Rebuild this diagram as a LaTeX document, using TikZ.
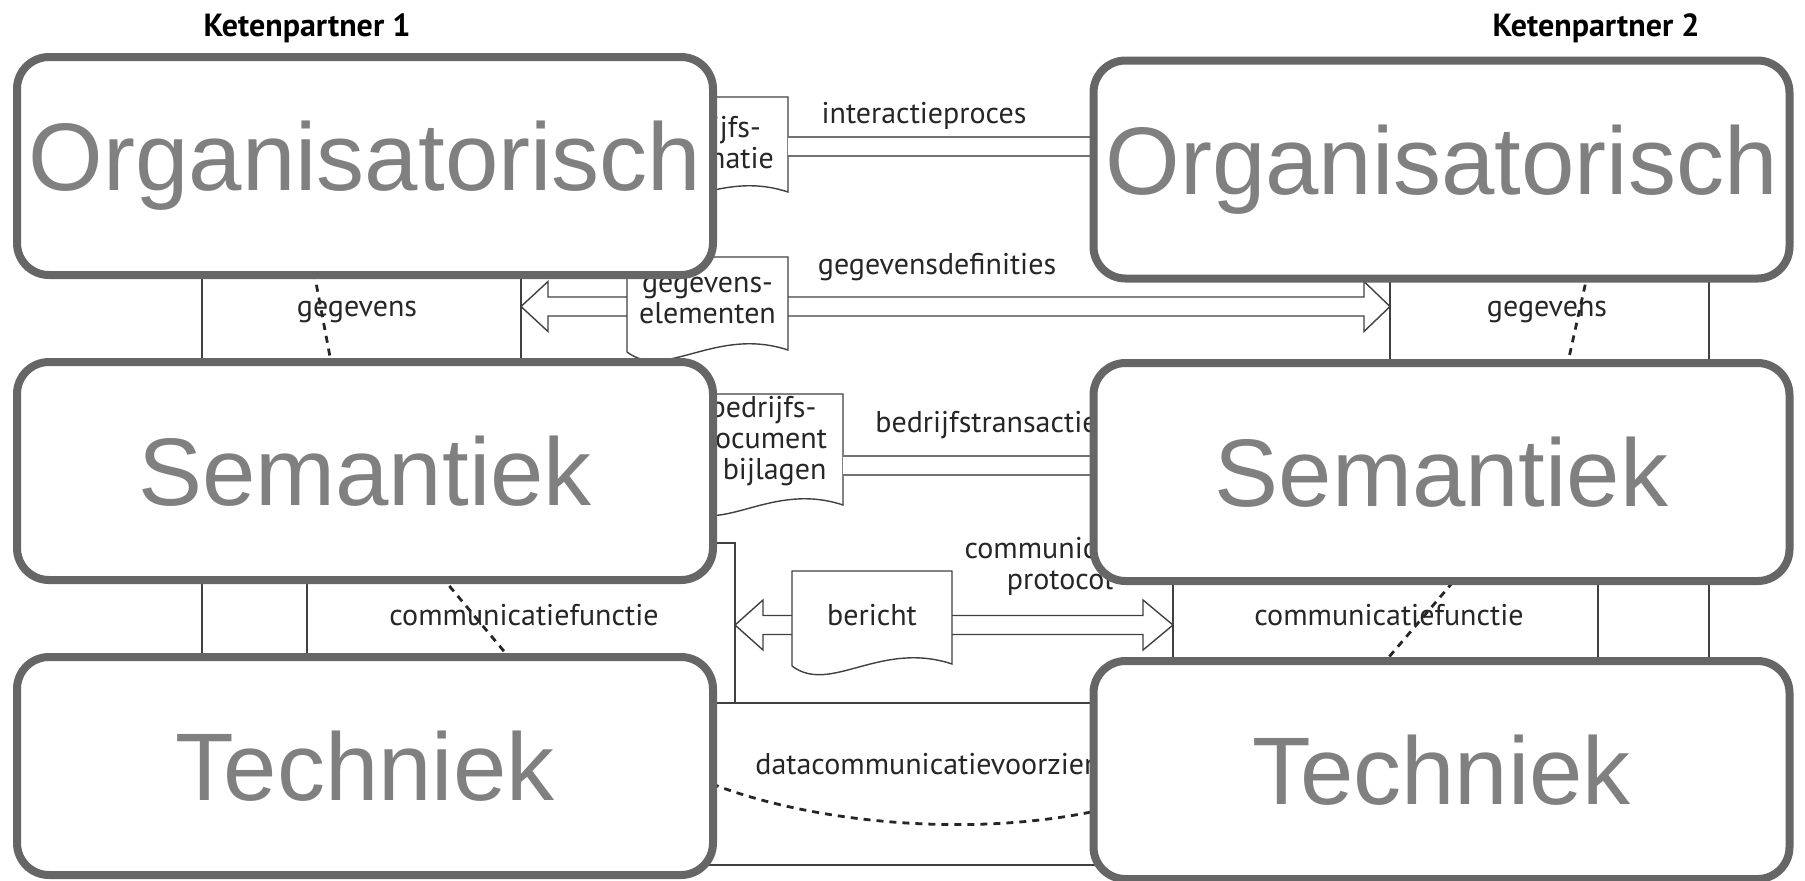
\documentclass[tikz,border=0pt]{standalone}
\usepackage{fontspec}
\setmainfont{PT Sans}
\newfontfamily\boxfont{Liberation Sans}
\usetikzlibrary{calc}
\definecolor{boxrand}{RGB}{102,102,102}
\definecolor{boxtekst}{RGB}{128,128,128}
\pgfdeclarelayer{onder}
\pgfsetlayers{onder,main}

% document met golvende onderkant: links, boven, rechts, onder
\newcommand{\docvorm}[4]{%
	\draw[lijn] (#1,{#4+2}) -- (#1,#2) -- (#3,#2) -- (#3,#4)
		.. controls ({#1+0.55*(#3-#1)},{#4-24}) and ({#1+0.24*(#3-#1)},{#4+31}) .. (#1,{#4+2});
}
% holle pijl: staart, punt, plaats van de kop
\newcommand{\holpijl}[3]{%
	\draw[lijn] ($(#1)+(0,9.5)$) -- ($(#2)+(#3,9.5)$) -- ($(#2)+(#3,25)$) -- (#2)
		-- ($(#2)+(#3,-25)$) -- ($(#2)+(#3,-9.5)$) -- ($(#1)+(0,-9.5)$);
}

\begin{document}
\begin{tikzpicture}[x=0.5pt, y=-0.5pt,
	laag/.style={draw=boxrand, line width=4pt, rounded corners=16pt, fill=white,
		minimum width=348pt, minimum height=109pt, inner sep=0pt,
		text=boxtekst, font=\boxfont\fontsize{48}{56}\selectfont},
	lijn/.style={draw=black!75, line width=0.7pt},
	dubbel/.style={draw=black!55, line width=1pt, double=white, double distance=8.5pt},
	stip/.style={draw=black!85, line width=1.4pt, dash pattern=on 3.5pt off 3pt},
	tekst/.style={font=\fontsize{15}{15.5}\selectfont, text=black!85, inner sep=0pt, align=center},
	kop/.style={font=\bfseries\fontsize{16}{19}\selectfont, inner sep=0pt}]
	\useasboundingbox (0,0) rectangle (1805,880);
	%koppen
	\node[kop] (kp1) at (307,28) {Ketenpartner 1};
	\node[kop] (kp2) at (1596,28) {Ketenpartner 2};
	%lagen
	\node[laag] (org1) at (365,166) {Organisatorisch};
	\node[laag] (sem1) at (365,471) {Semantiek};
	\node[laag] (tech1) at (365,766) {Techniek};
	\node[laag] (org2) at (1441.5,169.5) {Organisatorisch};
	\node[laag] (sem2) at (1441.5,472) {Semantiek};
	\node[laag] (tech2) at (1441.5,770) {Techniek};

	\begin{pgfonlayer}{onder}
	%kaders
	\draw[lijn] (202,200) -- (202,720);
	\draw[lijn] (521,200) -- (521,420);
	\draw[lijn] (307,500) -- (307,720);
	\draw[lijn] (1709,200) -- (1709,720);
	\draw[lijn] (1390,200) -- (1390,420);
	\draw[lijn] (1598,500) -- (1598,720);
	\draw[lijn] (1173,500) -- (1173,720);
	\draw[lijn] (700,543) -- (735,543) -- (735,703);
	\draw[lijn] (700,703) -- (1110,703);
	\draw[lijn] (700,865) -- (1110,865);

	%documenten
	\docvorm{627}{97}{788}{192}
	\docvorm{627}{257}{788}{350}
	\docvorm{683}{394}{843}{505}
	\docvorm{792}{571}{952}{664}
	\node[tekst] (bi) at (707.5,142.5) {bedrijfs-\\informatie};
	\node[tekst] (ge) at (707.5,300) {gegevens-\\elementen};
	\node[tekst] (bd) at (763,441) {bedrijfs-\\document\\+ bijlagen};
	\node[tekst] (ber) at (872,615) {bericht};

	%verbindingen
	\coordinate (bi o) at (788,146.5);
	\coordinate (ge o) at (788,306.5);
	\coordinate (ge w) at (627,306.5);
	\coordinate (bd o) at (843,465.5);
	\coordinate (ber o) at (952,625);
	\coordinate (ber w) at (792,625);
	\coordinate (gd r) at (1390,306.5);
	\coordinate (gd l) at (521,306.5);
	\coordinate (cp r) at (1173,625);
	\coordinate (cp l) at (735,625);
	\draw[dubbel] (bi o) -- (bi o -| org2.west);
	\draw[dubbel] (bd o) -- (bd o -| sem2.west);
	\holpijl{ge o}{gd r}{-26}
	\holpijl{ge w}{gd l}{27}
	\holpijl{ber o}{cp r}{-30}
	\holpijl{ber w}{cp l}{28}

	%stippellijnen
	\draw[stip] (314,272) -- (331,362);
	\draw[stip] (1588,272) -- (1568,362);
	\draw[stip] (441,576) -- (513,662);
	\draw[stip] (1453,582) -- (1383,664);
	\draw[stip] (700,779) .. controls (800,822) and (970,840) .. (1105,809);

	%teksten
	\node[tekst] (lip) at (924,116) {interactieproces};
	\node[tekst] (lgd) at (937,267) {gegevensdefinities};
	\node[tekst, anchor=west] (lbt) at (875,425) {bedrijfstransactie};
	\node[tekst] (lcp) at (1060,566.5) {communicatie-\\protocol};
	\node[tekst, anchor=west] (ldc) at (755,767) {datacommunicatievoorziening};
	\node[tekst] (lgeg1) at (357,312) {gegevens};
	\node[tekst] (lgeg2) at (1547,312) {gegevens};
	\node[tekst] (lcf1) at (524,615) {communicatiefunctie};
	\node[tekst] (lcf2) at (1389,615) {communicatiefunctie};
	\end{pgfonlayer}
\end{tikzpicture}
\end{document}
